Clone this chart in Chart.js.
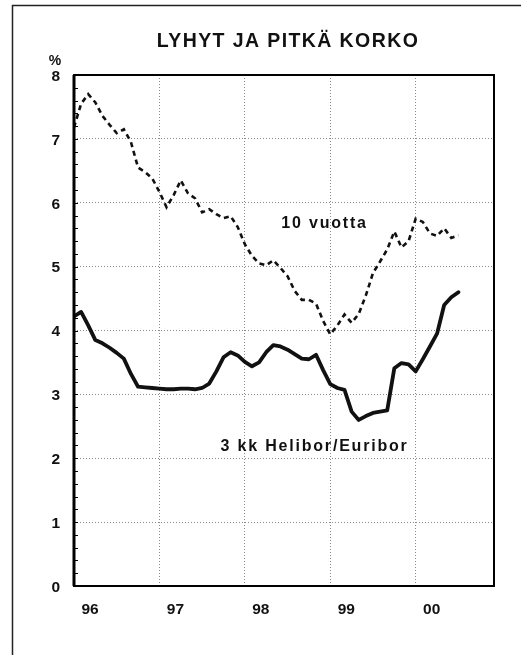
<!DOCTYPE html>
<html><head><meta charset="utf-8">
<script src="https://cdn.jsdelivr.net/npm/chart.js@4/dist/chart.umd.min.js"></script>
<style>html,body{margin:0;padding:0;background:#fff}#wrap{position:relative;width:521px;height:655px}</style>
</head><body><div id="wrap"><canvas id="c" width="521" height="655"></canvas></div>
<script>
// ---- data ----
const chartTitle = 'LYHYT JA PITKÄ KORKO';
const unitLabel = '%';
const xTickLabels = ['96', '97', '98', '99', '00'];
const xTickMonths = [0, 12, 24, 36, 48];
const yTickValues = [0, 1, 2, 3, 4, 5, 6, 7, 8];
const seriesNames = ['10 vuotta', '3 kk Helibor/Euribor'];
// monthly values from Jan 1996 onwards
const tenYear = [7.18, 7.55, 7.70, 7.57, 7.36, 7.22, 7.09, 7.15, 6.95, 6.55, 6.48, 6.38,
  6.17, 5.93, 6.12, 6.35, 6.15, 6.07, 5.85, 5.90, 5.82, 5.76, 5.79, 5.62,
  5.35, 5.17, 5.05, 5.02, 5.10, 4.98, 4.85, 4.62, 4.48, 4.48, 4.42, 4.15,
  3.94, 4.08, 4.25, 4.12, 4.26, 4.55, 4.90, 5.08, 5.27, 5.55, 5.30, 5.40,
  5.75, 5.70, 5.52, 5.48, 5.60, 5.45, 5.49];
const helibor = [4.22, 4.29, 4.08, 3.85, 3.80, 3.73, 3.65, 3.56, 3.32, 3.12, 3.11, 3.10,
  3.09, 3.08, 3.08, 3.09, 3.09, 3.08, 3.10, 3.17, 3.36, 3.58, 3.66, 3.61,
  3.51, 3.44, 3.50, 3.66, 3.77, 3.75, 3.70, 3.63, 3.56, 3.55, 3.62, 3.38,
  3.16, 3.10, 3.07, 2.73, 2.60, 2.66, 2.71, 2.73, 2.75, 3.41, 3.49, 3.47,
  3.36, 3.55, 3.75, 3.95, 4.40, 4.52, 4.60];

// ---- layout / style ----
const FONT = "'Liberation Sans', Arial, Helvetica, sans-serif";
const xMin = 0, xMax = 59, yMin = 0, yMax = 8;
const seriesLabelPos = [{x: 35.2, y: 5.68}, {x: 33.8, y: 2.19}];

const decor = {
  id: 'decor',
  beforeDraw(chart) {
    const ctx = chart.ctx;
    ctx.save();
    ctx.fillStyle = '#fff';
    ctx.fillRect(0, 0, chart.width, chart.height);
    ctx.strokeStyle = '#222';
    ctx.lineWidth = 1.5;
    ctx.beginPath();
    ctx.moveTo(12.5, chart.height);
    ctx.lineTo(12.5, 5.5);
    ctx.lineTo(chart.width, 5.5);
    ctx.stroke();
    ctx.restore();
  },
  beforeDatasetsDraw(chart) {
    const ctx = chart.ctx, a = chart.chartArea, ys = chart.scales.y;
    ctx.save();
    ctx.strokeStyle = '#000';
    ctx.lineWidth = 1;
    for (let k = 1; k < 40; k++) {
      const py = Math.round(ys.getPixelForValue(k / 5)) + 0.5;
      ctx.beginPath();
      ctx.moveTo(a.left, py);
      ctx.lineTo(a.left + 4, py);
      ctx.stroke();
    }
    ctx.restore();
  },
  afterDraw(chart) {
    const ctx = chart.ctx, a = chart.chartArea, xs = chart.scales.x, ys = chart.scales.y;
    ctx.save();
    ctx.strokeStyle = '#000';
    ctx.lineWidth = 2;
    ctx.strokeRect(a.left, a.top, a.right - a.left, a.bottom - a.top);
    ctx.lineWidth = 3;
    ctx.beginPath(); ctx.moveTo(a.left, a.top); ctx.lineTo(a.left, a.bottom); ctx.stroke();
    ctx.fillStyle = '#111';
    ctx.textAlign = 'center';
    ctx.textBaseline = 'middle';
    ctx.font = 'bold 19.5px ' + FONT;
    ctx.letterSpacing = '1.4px';
    ctx.fillText(chartTitle, 288, 42);
    ctx.letterSpacing = '0px';
    ctx.font = 'bold 14px ' + FONT;
    ctx.fillText(unitLabel, 55, 61);
    ctx.font = 'bold 16px ' + FONT;
    ctx.letterSpacing = '1.8px';
    seriesNames.forEach((n, i) => {
      ctx.fillText(n, xs.getPixelForValue(seriesLabelPos[i].x), ys.getPixelForValue(seriesLabelPos[i].y));
    });
    ctx.restore();
  }
};

const toPts = arr => arr.map((v, i) => ({x: i, y: v}));

new Chart(document.getElementById('c'), {
  type: 'line',
  data: {
    datasets: [
      {label: seriesNames[0], data: toPts(tenYear), borderColor: '#111', borderWidth: 2.6,
        borderDash: [5, 4], pointRadius: 0, tension: 0, fill: false},
      {label: seriesNames[1], data: toPts(helibor), borderColor: '#111', borderWidth: 3.8,
        pointRadius: 0, tension: 0, fill: false, borderJoinStyle: 'round', borderCapStyle: 'round'}
    ]
  },
  options: {
    responsive: false,
    animation: false,
    devicePixelRatio: 1,
    layout: {padding: {left: 0, top: 75, right: 27, bottom: 0}},
    plugins: {legend: {display: false}, tooltip: {enabled: false}, title: {display: false}},
    scales: {
      x: {
        type: 'linear', min: xMin, max: xMax,
        afterBuildTicks: s => { s.ticks = xTickMonths.map(v => ({value: v})); },
        afterFit: s => { s.height = 69; },
        ticks: {
          callback: (v) => xTickLabels[xTickMonths.indexOf(v)],
          font: {family: FONT, size: 15.5, weight: 'bold'}, color: '#111',
          labelOffset: 16, padding: 14, maxRotation: 0, autoSkip: false
        },
        grid: {color: '#8a8a8a', lineWidth: 1, drawTicks: false},
        border: {display: false, dash: [1, 2]}
      },
      y: {
        min: yMin, max: yMax,
        afterBuildTicks: s => { s.ticks = yTickValues.map(v => ({value: v})); },
        afterFit: s => { s.width = 74; },
        ticks: {
          font: {family: FONT, size: 15.5, weight: 'bold'}, color: '#111',
          padding: 14, labelOffset: 1.5
        },
        grid: {color: '#8a8a8a', lineWidth: 1, drawTicks: false},
        border: {display: false, dash: [1, 2]}
      }
    }
  },
  plugins: [decor]
});
</script></body></html>
